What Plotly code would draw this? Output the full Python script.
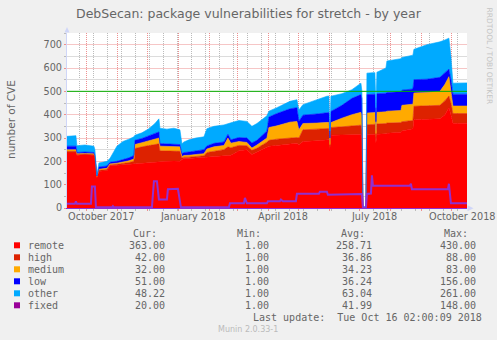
import plotly.graph_objects as go

# ---------------- data ----------------
dates = [
    "2017-09-11", "2017-09-20", "2017-09-21", "2017-09-29", "2017-10-08", "2017-10-09", "2017-10-11", "2017-10-13", "2017-10-21", "2017-10-24",
    "2017-10-31", "2017-11-06", "2017-11-12", "2017-11-17", "2017-11-18", "2017-11-25", "2017-12-02", "2017-12-08", "2017-12-12", "2017-12-13",
    "2017-12-20", "2017-12-27", "2018-01-02", "2018-01-04", "2018-01-06", "2018-01-11", "2018-01-18", "2018-01-26", "2018-01-29", "2018-02-05",
    "2018-02-15", "2018-02-19", "2018-02-22", "2018-03-02", "2018-03-10", "2018-03-15", "2018-03-20", "2018-03-30", "2018-04-01", "2018-04-09",
    "2018-04-22", "2018-04-29", "2018-05-01", "2018-05-05", "2018-05-19", "2018-05-29", "2018-05-31", "2018-06-01", "2018-06-02", "2018-06-13",
    "2018-06-23", "2018-07-02", "2018-07-03", "2018-07-04", "2018-07-07", "2018-07-08", "2018-07-14", "2018-07-16", "2018-07-17", "2018-07-18",
    "2018-07-27", "2018-07-28", "2018-08-11", "2018-08-12", "2018-08-23", "2018-08-24", "2018-09-06", "2018-09-19", "2018-09-24", "2018-09-28",
    "2018-09-30", "2018-10-02", "2018-10-16 02:00",
]
remote = [236, 236, 226, 228, 226, 215, 130, 157, 160, 181,
          183, 185, 187, 190, 190, 192, 195, 197, 198, 200,
          200, 201, 200, 208, 212, 212, 214, 216, 218, 220,
          222, 225, 226, 245, 250, 229, 240, 262, 265, 268,
          275, 278, 270, 285, 288, 290, 292, 255, 312, 313,
          314, 315, 300, 1, 1, 314, 315, 316, 280, 316,
          318, 320, 325, 330, 340, 378, 380, 382, 400, 430,
          400, 363, 363]
high = [7, 7, 3, 3, 3, 3, 3, 5, 5, 4,
        4, 5, 8, 10, 65, 70, 73, 75, 77, 45,
        44, 45, 43, 6, 6, 6, 6, 8, 20, 24,
        28, 37, 32, 23, 17, 18, 16, 20, 25, 27,
        25, 24, 30, 50, 50, 50, 49, 7, 33, 35,
        38, 40, 40, 1, 1, 43, 43, 43, 20, 44,
        44, 44, 41, 40, 35, 58, 58, 58, 60, 50,
        50, 42, 42]
medium = [7, 7, 3, 3, 3, 2, 2, 4, 5, 4,
          5, 6, 7, 10, 17, 18, 20, 23, 25, 20,
          19, 18, 19, 6, 7, 8, 8, 9, 15, 18,
          18, 38, 20, 17, 14, 10, 14, 18, 55, 57,
          68, 69, 35, 27, 26, 26, 26, 10, 21, 37,
          48, 55, 55, 1, 1, 50, 50, 50, 20, 50,
          50, 51, 52, 70, 70, 57, 57, 60, 70, 83,
          50, 32, 32]
low = [15, 15, 6, 6, 6, 5, 2, 10, 10, 7,
       8, 11, 13, 15, 18, 18, 22, 23, 26, 11,
       11, 11, 10, 12, 13, 14, 17, 17, 13, 15,
       15, 16, 14, 17, 19, 22, 20, 30, 45, 53,
       57, 59, 37, 36, 39, 42, 42, 28, 48, 55,
       70, 76, 75, 1, 1, 79, 79, 79, 50, 80,
       80, 80, 80, 65, 65, 57, 57, 60, 50, 32,
       50, 51, 51]
other = [42, 45, 29, 30, 27, 25, 3, 17, 20, 16,
         65, 78, 80, 80, 22, 24, 30, 44, 56, 66,
         64, 67, 63, 43, 45, 52, 55, 55, 74, 73,
         73, 46, 73, 73, 71, 71, 72, 65, 25, 25,
         32, 34, 48, 45, 62, 71, 71, 30, 65, 50,
         37, 49, 30, 1, 1, 92, 93, 92, 60, 92,
         108, 135, 142, 140, 145, 130, 148, 152, 140, 133,
         100, 47, 48.22]

fixed_dates = [
    "2017-09-11", "2017-09-19", "2017-09-20", "2017-09-21", "2017-10-05", "2017-10-06", "2017-10-09", "2017-10-10", "2017-10-26", "2017-10-27",
    "2017-10-28", "2017-11-02", "2017-11-03", "2017-11-04", "2017-12-05", "2017-12-07", "2017-12-10", "2017-12-12", "2017-12-20", "2017-12-21",
    "2017-12-31", "2018-01-03", "2018-01-15", "2018-01-16", "2018-01-17", "2018-02-20", "2018-02-21", "2018-03-07", "2018-03-08", "2018-03-10",
    "2018-03-30", "2018-03-31", "2018-04-12", "2018-04-13", "2018-04-15", "2018-04-28", "2018-04-29", "2018-05-21", "2018-05-22", "2018-05-29",
    "2018-05-30", "2018-07-02", "2018-07-03", "2018-07-04", "2018-07-07", "2018-07-08", "2018-07-12", "2018-07-13", "2018-07-14", "2018-08-20",
    "2018-08-21", "2018-08-22", "2018-09-27", "2018-09-28", "2018-09-30", "2018-10-16 02:00",
]
fixed = [18, 18, 28, 18, 18, 92, 92, 3, 3, 8,
         3, 3, 6, 3, 3, 115, 115, 36, 36, 80,
         82, 3, 3, 6, 3, 3, 20, 20, 43, 20,
         20, 29, 29, 36, 29, 29, 61, 61, 70, 70,
         57, 57, 60, 1, 1, 60, 62, 140, 95, 96,
         104, 80, 80, 104, 20, 20]

series_names = ["remote", "high", "medium", "low", "other", "fixed"]
cur_vals = ["363.00", "42.00", "32.00", "51.00", "48.22", "20.00"]
min_vals = ["1.00", "1.00", "1.00", "1.00", "1.00", "1.00"]
avg_vals = ["258.71", "36.86", "34.23", "36.24", "63.04", "41.99"]
max_vals = ["430.00", "88.00", "83.00", "156.00", "261.00", "148.00"]

x_label_dates = ["2017-10-16", "2018-01-15", "2018-04-15", "2018-07-15", "2018-10-12"]
x_labels = ["October 2017", "January 2018", "April 2018", "July 2018", "October 2018"]
y_tick_step = 100
y_minor_step = 50
warning_level = 500
x_start, x_end = "2017-09-11 02:00", "2018-10-16 02:00"
y_max = 750

title_text = "DebSecan: package vulnerabilities for stretch - by year"
y_title = "number of CVE"
last_update = "Last update:  Tue Oct 16 02:00:09 2018"
munin_ver = "Munin 2.0.33-1"
watermark = "RRDTOOL / TOBI OETIKER"

# ---------------- styles ----------------
colors = {"remote": "#FF0000", "high": "#DD2200", "medium": "#FFAA00",
          "low": "#0000FF", "other": "#00AAFF", "fixed": "#990099"}
fixed_line_color = "#9030D0"
FONT = "DejaVu Sans"
MONO = "DejaVu Sans Mono"
TXT = "#666666"
MGRID = "#EE9090"
GRID = "#BBBBBB"
MGRID_H = "#F6C6C6"
GRID_H = "#DCDCDC"
AXIS = "#CFD6F8"
DASH = "1px,1px"

W, H = 497, 340
L, R, T, B = 67, 30, 33, 132
PW, PH = W - L - R, H - T - B


def px(x):
    return (x - L) / PW


def py(y):
    return (H - B - y) / PH


fig = go.Figure()
stack = [("remote", remote), ("high", high), ("medium", medium), ("low", low), ("other", other)]
for name, vals in stack:
    fig.add_trace(go.Scatter(
        x=dates, y=vals, name=name, stackgroup="one", mode="lines",
        line=dict(width=0.6, color=colors[name]), fillcolor=colors[name],
        hoverinfo="skip", showlegend=False))

fig.add_trace(go.Scatter(
    x=fixed_dates, y=fixed, name="fixed", mode="lines",
    line=dict(width=2, color=fixed_line_color), hoverinfo="skip", showlegend=False))

shapes = []
shapes.append(dict(type="line", xref="paper", yref="y", x0=0, x1=1, y0=warning_level, y1=warning_level,
                   line=dict(color="#00B000", width=1), layer="above"))
shapes.append(dict(type="path", xref="paper", yref="paper", layer="above",
                   path=f"M {px(64.5)},{py(32.5)} L {px(67)},{py(27)} L {px(69.5)},{py(32.5)} Z",
                   fillcolor=AXIS, line=dict(width=0)))
shapes.append(dict(type="path", xref="paper", yref="paper", layer="above",
                   path=f"M {px(467.5)},{py(205.3)} L {px(473.5)},{py(208.3)} L {px(467.5)},{py(211.3)} Z",
                   fillcolor=AXIS, line=dict(width=0)))

row_y = [245.3, 257.3, 269.3, 281.3, 293.3, 305.3]
for i, name in enumerate(series_names):
    shapes.append(dict(type="rect", xref="paper", yref="paper",
                       x0=px(14), x1=px(20), y0=py(row_y[i] - 3), y1=py(row_y[i] + 3),
                       fillcolor=colors[name], line=dict(width=0)))

ann = []


def text(t, x, y, anchor="left", size=10, family=MONO, color=TXT, angle=0):
    ann.append(dict(text=t, x=px(x), y=py(y), xref="paper", yref="paper", showarrow=False,
                    xanchor=anchor, yanchor="middle", textangle=angle,
                    font=dict(family=family, size=size, color=color), borderpad=0))


# x-axis labels, positioned by the date axis
for d, lab in zip(x_label_dates, x_labels):
    ann.append(dict(text=lab, x=d, y=py(216.3), xref="x", yref="paper", showarrow=False,
                    xanchor="center", yanchor="middle",
                    font=dict(family=FONT, size=9.7, color=TXT), borderpad=0))

for t, xr in zip(["Cur:", "Min:", "Avg:", "Max:"], [158.3, 262.3, 365.7, 469]):
    text(t, xr, 233.3, "right")
for i, name in enumerate(series_names):
    text(name, 27.3, row_y[i], "left")
    text(cur_vals[i], 166, row_y[i], "right")
    text(min_vals[i], 270, row_y[i], "right")
    text(avg_vals[i], 373.3, row_y[i], "right")
    text(max_vals[i], 477.3, row_y[i], "right")
text(last_update, 483.3, 317.3, "right")
text(munin_ver, 248.3, 329, "center", size=8, family=FONT, color="#BBBBBB")
text(y_title, 11, 119, "center", size=10.5, family=FONT, angle=-90)
text(watermark, 489.5, 56, "center", size=7.5, family=FONT, color="#C4C4C4", angle=90)
text(title_text, 248.5, 13.3, "center", size=12.5, family=FONT)

fig.update_layout(
    width=W, height=H, margin=dict(l=L, r=R, t=T, b=B, pad=0),
    paper_bgcolor="#F0F0F0", plot_bgcolor="#FFFFFF",
    showlegend=False, shapes=shapes, annotations=ann,
    xaxis=dict(type="date", range=[x_start, x_end], zeroline=False,
               showgrid=True, gridcolor=MGRID, griddash=DASH, gridwidth=1,
               showticklabels=False, ticks="outside", ticklen=2, tickcolor=MGRID,
               tickmode="linear", tick0="2017-10-01", dtick="M1",
               minor=dict(ticks="outside", ticklen=2, tickcolor=GRID, showgrid=True,
                          gridcolor=GRID, griddash=DASH, gridwidth=1,
                          tick0="2017-09-24", dtick=14 * 86400000),
               showline=True, linecolor=fixed_line_color, linewidth=1, fixedrange=True),
    yaxis=dict(range=[0, y_max], zeroline=False,
               showgrid=True, gridcolor=MGRID_H, gridwidth=1,
               tickmode="linear", tick0=0, dtick=y_tick_step,
               ticks="outside", ticklen=2, tickcolor=MGRID,
               minor=dict(tickmode="linear", tick0=0, dtick=y_minor_step, ticks="outside", ticklen=2,
                          tickcolor=GRID, showgrid=True, gridcolor=GRID_H, gridwidth=1),
               tickfont=dict(family=FONT, size=9.7, color=TXT),
               showline=True, linecolor=AXIS, linewidth=1, fixedrange=True),
)

fig.write_html("out.html")
